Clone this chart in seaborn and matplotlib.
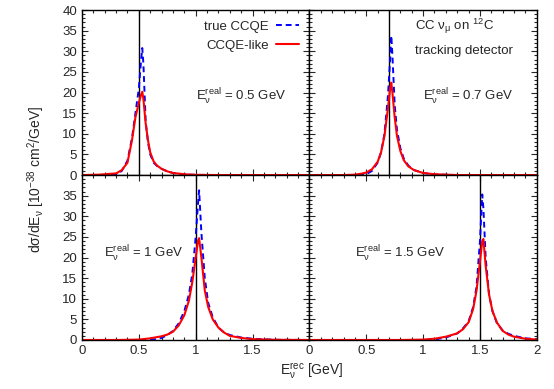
import matplotlib
matplotlib.use("Agg")
import matplotlib.pyplot as plt
import seaborn as sns
from matplotlib.ticker import MultipleLocator, FormatStrFormatter, NullFormatter

# E_real = 0.5 GeV
x_05 = [0.0, 0.15, 0.25, 0.30, 0.35, 0.40, 0.44, 0.47, 0.50, 0.52, 0.53, 0.54, 0.55, 0.56, 0.58, 0.60, 0.63, 0.66, 0.70, 0.75, 0.80, 0.90, 1.0, 1.2, 2.0]
true_05 = [0, 0, 0, 0.1, 1.0, 3.5, 9, 15, 21, 28, 30.8, 27, 20, 13, 8, 5, 3, 2.2, 1.5, 0.9, 0.5, 0.15, 0.05, 0, 0]
like_05 = [0, 0.1, 0.3, 0.4, 1.2, 3.0, 8.5, 14, 17.5, 19.5, 20.2, 18.5, 15.5, 12.5, 8.5, 5.5, 3.3, 2.3, 1.5, 0.9, 0.5, 0.2, 0.05, 0, 0]

# E_real = 0.7 GeV
x_07 = [0.0, 0.30, 0.40, 0.45, 0.50, 0.55, 0.60, 0.63, 0.66, 0.69, 0.71, 0.72, 0.73, 0.75, 0.77, 0.80, 0.83, 0.87, 0.92, 1.0, 1.1, 1.3, 2.0]
true_07 = [0, 0, 0, 0, 0.2, 1.0, 3.0, 5.5, 10, 19, 28, 33.8, 29, 17, 11, 6.5, 4, 2.3, 1.2, 0.5, 0.15, 0, 0]
like_07 = [0, 0, 0.1, 0.3, 0.6, 1.4, 3.2, 5.5, 9.5, 16, 21, 22.4, 20, 14, 9.5, 5.8, 3.6, 2.1, 1.2, 0.5, 0.2, 0, 0]

# E_real = 1 GeV
x_10 = [0.0, 0.30, 0.50, 0.60, 0.70, 0.75, 0.80, 0.85, 0.90, 0.94, 0.97, 1.00, 1.02, 1.03, 1.05, 1.08, 1.11, 1.15, 1.20, 1.25, 1.30, 1.40, 1.50, 1.70, 2.0]
true_10 = [0, 0, 0, 0, 0.5, 1.2, 2.2, 4, 7, 11, 16, 25, 33, 36.3, 26, 15, 9, 5.5, 3, 1.8, 1.2, 0.6, 0.3, 0.05, 0]
like_10 = [0, 0, 0.1, 0.4, 0.9, 1.3, 2, 3.5, 6, 9.5, 14, 20, 24, 24.7, 20, 12, 8, 5, 3, 1.8, 1, 0.5, 0.2, 0.05, 0]

# E_real = 1.5 GeV
x_15 = [0.0, 0.80, 1.00, 1.10, 1.20, 1.30, 1.35, 1.40, 1.44, 1.47, 1.50, 1.52, 1.53, 1.55, 1.58, 1.61, 1.65, 1.70, 1.75, 1.80, 1.90, 2.0]
true_15 = [0, 0, 0, 0.1, 0.6, 1.6, 2.8, 4.5, 8, 13, 24, 35.3, 32, 20, 11, 7, 4, 2.3, 1.5, 1, 0.4, 0.2]
like_15 = [0, 0, 0.1, 0.3, 0.8, 1.6, 2.6, 4.3, 7.5, 12, 19, 24, 24.5, 18, 11, 7, 4.2, 2.2, 1.3, 0.8, 0.3, 0.1]

panels = [
    (x_05, true_05, like_05, 0.5, "0.5"),
    (x_07, true_07, like_07, 0.7, "0.7"),
    (x_10, true_10, like_10, 1.0, "1"),
    (x_15, true_15, like_15, 1.5, "1.5"),
]
label_pos = [(1.0, 18), (1.0, 18), (0.19, 20), (0.40, 20)]

sns.set_style("white")
plt.rcParams["font.family"] = ["Liberation Sans", "DejaVu Sans"]
plt.rcParams["font.size"] = 9.5
plt.rcParams["mathtext.fontset"] = "custom"
plt.rcParams["mathtext.rm"] = "Liberation Sans"
plt.rcParams["mathtext.it"] = "Liberation Sans"

fig, axes = plt.subplots(2, 2, figsize=(5.54, 3.89), dpi=100)
fig.subplots_adjust(left=0.148, right=0.969, top=0.974, bottom=0.126, wspace=0, hspace=0)

for ax, (x, t, l, ereal, lab), (tx, ty) in zip(axes.flat, panels, label_pos):
    ax.axvline(ereal, color="black", lw=1)
    sns.lineplot(x=x, y=t, ax=ax, color="#0000ff", lw=1.4, linestyle=(0, (3, 2)), label="true CCQE")
    sns.lineplot(x=x, y=l, ax=ax, color="#ff0000", lw=1.5, label="CCQE-like")
    ax.text(tx, ty, r"E$_\nu^{\rm real}$ = " + lab + " GeV", fontsize=9.5)
    ax.set_xlim(0, 2)
    ax.set_ylim(0, 40)
    ax.xaxis.set_major_locator(MultipleLocator(0.5))
    ax.xaxis.set_minor_locator(MultipleLocator(0.1))
    ax.yaxis.set_major_locator(MultipleLocator(5))
    ax.yaxis.set_minor_locator(MultipleLocator(1))
    ax.xaxis.set_major_formatter(FormatStrFormatter("%g"))
    ax.yaxis.set_major_formatter(FormatStrFormatter("%g"))
    ax.tick_params(which="both", direction="in", top=True, right=True, bottom=True, left=True, labelsize=9.5, width=0.8)
    ax.tick_params(which="major", length=4)
    ax.tick_params(which="minor", length=2)
    for s in ax.spines.values():
        s.set_linewidth(1)
        s.set_color("black")
    ax.get_legend().remove()

ax1, ax2, ax3, ax4 = axes.flat
# only outer tick labels, like a gnuplot multiplot
for ax in (ax1, ax2):
    ax.xaxis.set_major_formatter(NullFormatter())
for ax in (ax2, ax4):
    ax.yaxis.set_major_formatter(NullFormatter())
ax3.set_xticks([0, 0.5, 1, 1.5])
ax3.set_yticks([0, 5, 10, 15, 20, 25, 30, 35])
ax3.set_xlim(0, 2)
ax3.set_ylim(0, 40)

ax1.legend(loc="upper right", frameon=False, markerfirst=False, handlelength=1.7,
           handletextpad=0.6, borderaxespad=0.4, labelspacing=0.5, fontsize=9.5)
ax2.text(0.93, 36, r"CC $\nu_\mu$ on $^{12}$C", fontsize=9.5, va="center")
ax2.text(0.93, 30, "tracking detector", fontsize=9.5, va="center")

fig.text(0.065, 0.54, r"d$\sigma$/dE$_\nu$ [10$^{-38}$ cm$^2$/GeV]", rotation=90, va="center", ha="center", fontsize=10)
fig.text(0.562, 0.045, r"E$_\nu^{\rm rec}$ [GeV]", ha="center", va="center", fontsize=10)

fig.savefig("out.png", dpi=100)
